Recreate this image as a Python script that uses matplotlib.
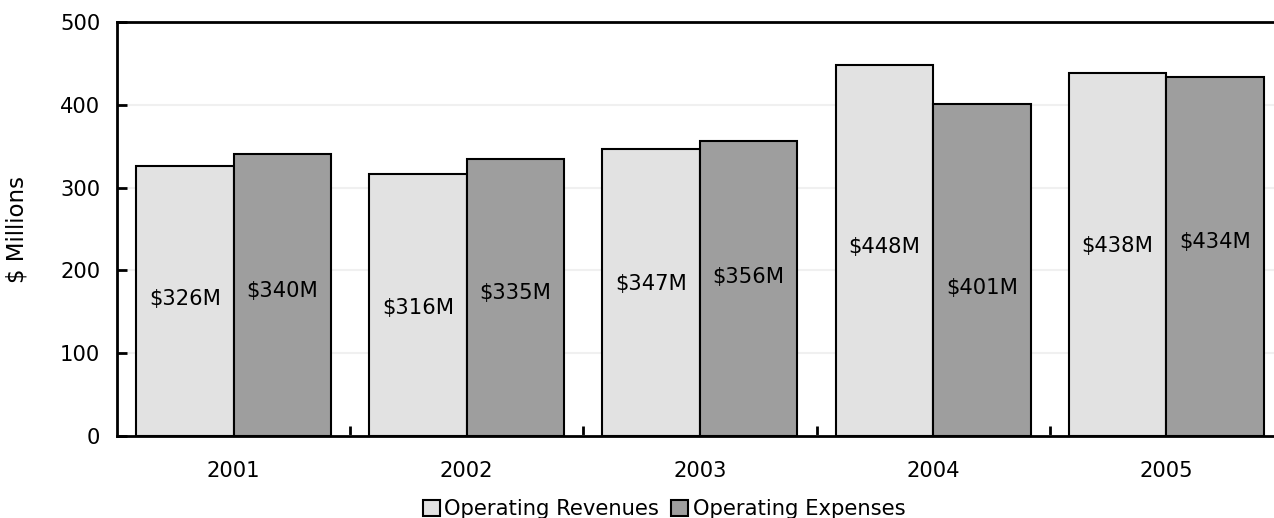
import matplotlib
matplotlib.use("Agg")
import matplotlib.pyplot as plt
import numpy as np

years = ["2001", "2002", "2003", "2004", "2005"]
revenues = [326, 316, 347, 448, 438]
expenses = [340, 335, 356, 401, 434]
rev_labels = ["$326M", "$316M", "$347M", "$448M", "$438M"]
exp_labels = ["$340M", "$335M", "$356M", "$401M", "$434M"]
y_ticks = [0, 100, 200, 300, 400, 500]

# heights where the value labels sit (as placed in the original chart)
rev_label_y = [165, 155, 184, 228, 229]
exp_label_y = [175, 173, 192, 179, 234]

plt.rcParams["font.family"] = "DejaVu Sans"
fs = 15.2

fig = plt.figure(figsize=(12.74, 5.18), dpi=100)
ax = fig.add_axes([0.0918, 0.1583, 0.9152, 0.7992])

x = np.arange(len(years))
w = 0.418
light = "#e2e2e2"
dark = "#9e9e9e"

ax.bar(x - w / 2, revenues, w, color=light, edgecolor="black", linewidth=1.5,
       label="Operating Revenues", zorder=3)
ax.bar(x + w / 2, expenses, w, color=dark, edgecolor="black", linewidth=1.5,
       label="Operating Expenses", zorder=3)

for i in range(len(years)):
    ax.text(x[i] - w / 2, rev_label_y[i], rev_labels[i], ha="center", va="center",
            fontsize=fs, zorder=4)
    ax.text(x[i] + w / 2, exp_label_y[i], exp_labels[i], ha="center", va="center",
            fontsize=fs, zorder=4)

ax.set_xlim(-0.5, len(years) - 0.5)
ax.set_ylim(0, 500)
ax.set_yticks(y_ticks)
ax.set_yticklabels([str(t) for t in y_ticks], fontsize=fs)
ax.set_xticks(x)
ax.set_xticklabels(years, fontsize=fs)
ax.set_xticks(np.arange(len(years) - 1) + 0.5, minor=True)

ax.tick_params(axis="x", which="major", length=0, pad=18)
ax.tick_params(axis="x", which="minor", direction="in", length=7, width=2)
ax.tick_params(axis="y", direction="in", length=7, width=2, pad=12)

ax.grid(axis="y", color="#f0f0f0", linewidth=1.5, zorder=0)
ax.set_axisbelow(True)

for s in ["left", "bottom", "top"]:
    ax.spines[s].set_linewidth(2)
ax.spines["right"].set_visible(False)

ax.set_ylabel("$ Millions", fontsize=16.5)
ax.yaxis.set_label_coords(-0.0755, 0.5)

fig.legend(loc="center", bbox_to_anchor=(664 / 1274, 9 / 518), ncol=2,
           fontsize=fs, frameon=False, handlelength=0.8, handleheight=0.8,
           handletextpad=0.2, columnspacing=0.6, borderpad=0)

fig.savefig("out.png", dpi=100)
